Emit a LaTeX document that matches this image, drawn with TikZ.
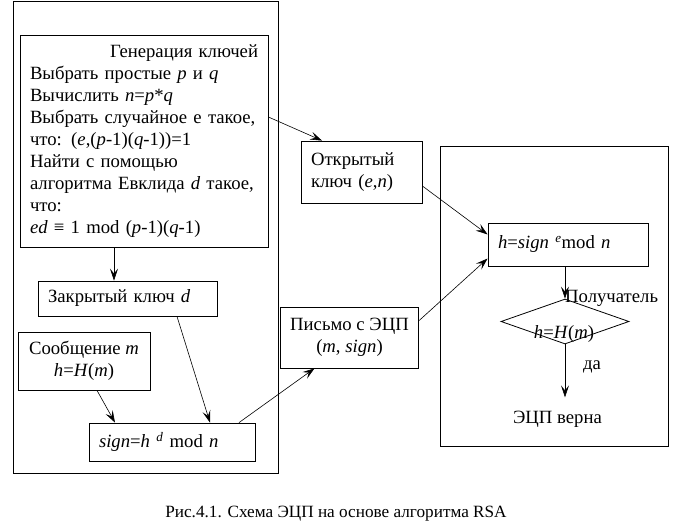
\documentclass[tikz,border=0pt]{standalone}
\usepackage{fontspec}
\setmainfont{Liberation Serif}
\usetikzlibrary{arrows.meta,calc,shapes.geometric}
\tikzset{
  box/.style={draw, line width=.8pt, inner xsep=10pt, inner ysep=0pt},
  lbl/.style={inner sep=0pt},
  arr/.style={line width=.6pt, -{Stealth[length=12pt,width=8pt,inset=5pt]}}
}
\begin{document}
\begin{tikzpicture}[x=1pt, y=-1pt, font=\fontsize{18.7}{21.9}\selectfont]
    \useasboundingbox (0,0) rectangle (675,532);
    \draw[line width=.8pt] (13,1) rectangle (278,473);
    \draw[line width=.8pt] (440,146) rectangle (668,446);
    \node[box, text width=228pt, minimum height=212pt, align=left] (keygen) at (144,141) {\mbox{}\hfill Генерация ключей\\
      Выбрать простые \textit{p} и \textit{q}\\
      Вычислить \textit{n}=\textit{p}*\textit{q}\\
      Выбрать случайное е такое,\\
      что: (\textit{e},(\textit{p}-1)(\textit{q}-1))=1\\
      Найти с помощью\\
      алгоритма Евклида \textit{d} такое,\\
      что:\\
      \textit{ed} ≡ 1 mod (\textit{p}-1)(\textit{q}-1)};
    \node[box, text width=159pt, minimum height=35pt, align=left] (closed) at (127.5,298.5) {Закрытый ключ \textit{d}};
    \node[box, minimum width=132pt, minimum height=58pt, align=center] (message) at (84,361) {Сообщение \textit{m}\\\textit{h}=\textit{H}(\textit{m})};
    \node[box, text width=146pt, minimum height=38pt, align=left] (signbox) at (172,442) {\textit{sign}=\textit{h} \textsuperscript{\textit{d}} mod \textit{n}};
    \node[box, text width=101pt, minimum height=62pt, align=left] (open) at (361.5,172) {Открытый\\ключ (\textit{e},\textit{n})};
    \node[box, minimum width=127pt, minimum height=61pt, align=center] (letter) at (349.5,337.5) {Письмо с ЭЦП\\(\textit{m}, \textit{sign})};
    \node[box, text width=140pt, minimum height=43pt, align=left] (hbox) at (568,244.5) {\textit{h}=\textit{sign} \textsuperscript{\textit{e}}mod \textit{n}};
    \node[draw, line width=.8pt, diamond, inner sep=0pt, minimum width=128pt, minimum height=45pt] (check) at (565,321.5) {};
    \node[lbl, anchor=base] (cond) at (564,338) {\textit{h}=\textit{H}(\textit{m})};
    \node[lbl, anchor=base west] (receiver) at (565,302) {Получатель};
    \node[lbl, anchor=base] (yes) at (592,369) {да};
    \node[lbl, anchor=base, inner ysep=13pt] (verdict) at (557.5,423) {ЭЦП верна};
    \node[lbl, anchor=base, font=\fontsize{17.2}{20}\selectfont] (caption) at (336,517) {Рис.4.1. Схема ЭЦП на основе алгоритма RSA};
    \draw[arr] ($(keygen.east)+(0,-24)$) -- ($(open.north)+(-39.5,0)$);
    \draw[arr] ($(keygen.south)+(-30,0)$) -- ($(closed.north)+(-13.5,0)$);
    \draw[arr] ($(closed.south)+(49.5,0)$) -- ($(signbox.north)+(38,0)$);
    \draw[arr] ($(message.south)+(13,0)$) -- ($(signbox.north)+(-57,0)$);
    \draw[arr] ($(signbox.north)+(67,0)$) -- ($(letter.south)+(-35,0)$);
    \draw[arr] ($(open.east)+(0,14)$) -- ($(hbox.west)+(0,-10)$);
    \draw[arr] ($(letter.east)+(0,-17)$) -- ($(hbox.west)+(0,14)$);
    \draw[arr] (hbox.south -| check.north) -- (check.north);
    \draw[arr] (check.south) -- (check.south |- verdict.north);
\end{tikzpicture}
\end{document}
